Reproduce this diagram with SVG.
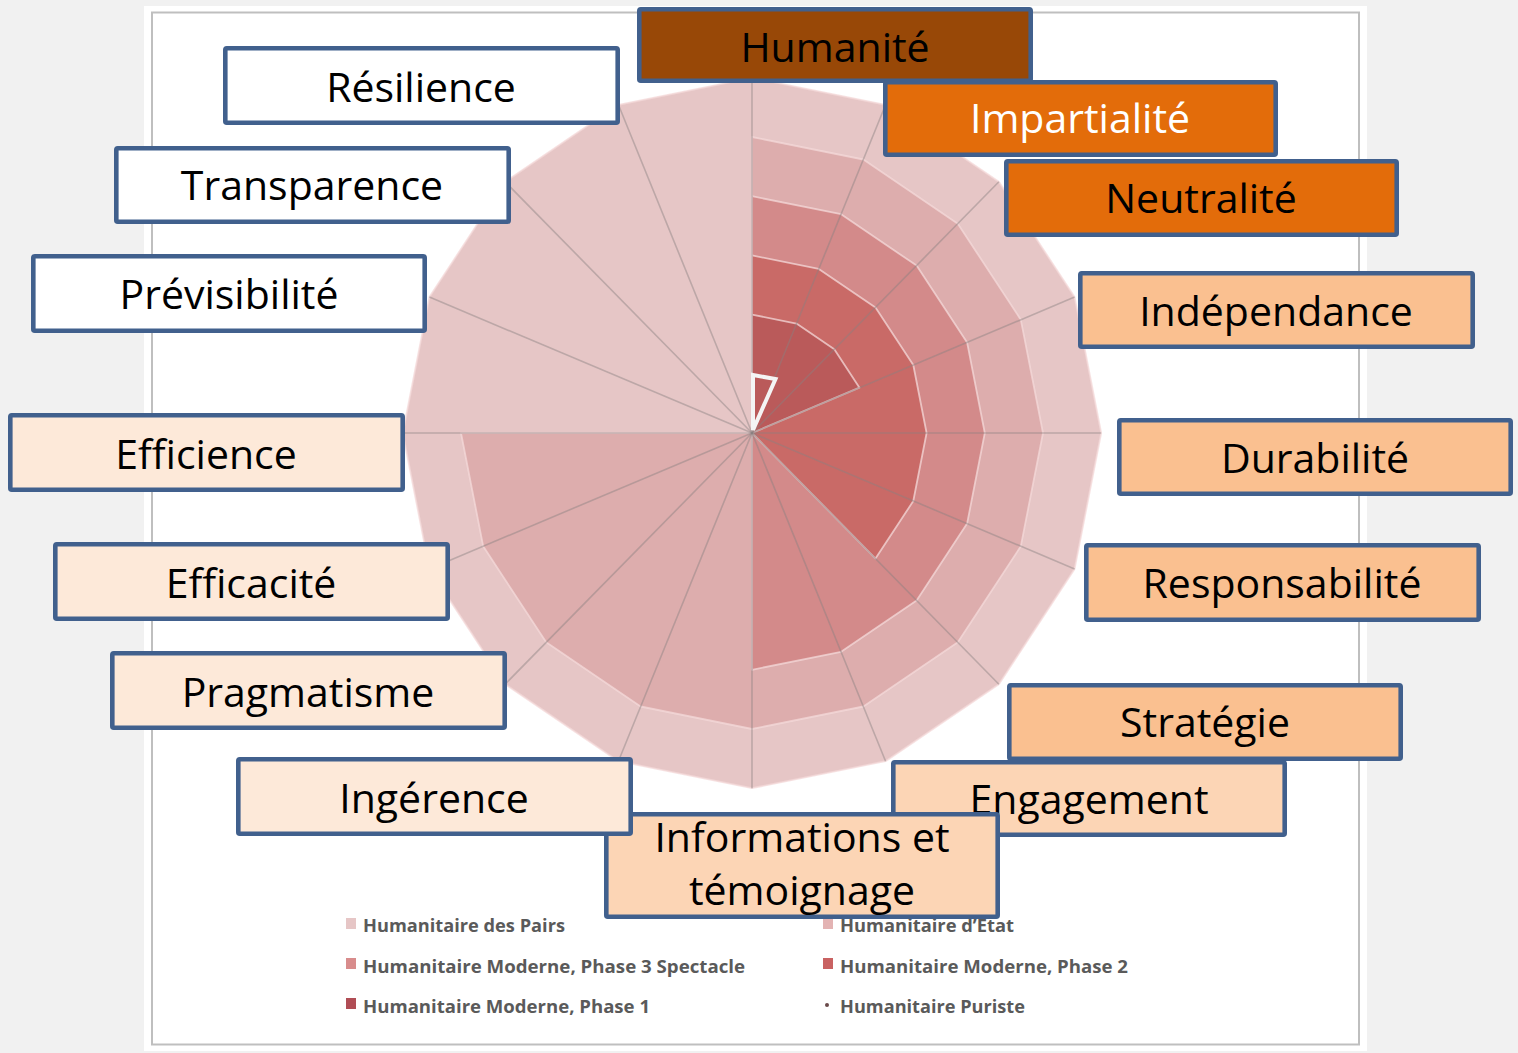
<svg xmlns="http://www.w3.org/2000/svg" width="1518" height="1053" viewBox="0 0 1518 1053">
<defs>
<style>
.box{stroke:#41608D;stroke-width:4.6}
.lbl{font-family:"Open Sans","Noto Sans","Liberation Sans",sans-serif;font-size:41px;text-anchor:middle;fill:#000}
.wht{fill:#FFFFFF}
.brown{fill:#984807}
.orange{fill:#E36C0A}
.lo{fill:#FAC090}
.pe{fill:#FCD5B5}
.vl{fill:#FDE9D9}
.band{stroke:#F4DADA;stroke-opacity:0.75;stroke-width:1.8;stroke-linejoin:round}
.spoke{stroke:#8A8080;stroke-opacity:0.45;stroke-width:1.6}
.leg{font-family:"Open Sans","Noto Sans","Liberation Sans",sans-serif;font-size:18.5px;font-weight:700;fill:#5A5A5A}
</style>
</defs>
<rect x="0" y="0" width="1518" height="1053" fill="#F1F1F1"/>
<rect x="144" y="6" width="1223" height="1045" fill="#FFFFFF"/>
<rect x="152" y="12.5" width="1207" height="1032" fill="none" stroke="#BFBFBF" stroke-width="2"/>

<g id="chart">
<polygon id="pairs" class="band" fill="#E6C6C6" points="752,77.8 885.6,104.8 998.9,181.8 1074.6,297.1 1101.2,433 1074.6,568.9 998.9,684.2 885.6,761.2 752,788.2 618.4,761.2 505.1,684.2 429.4,568.9 402.8,433 429.4,297.1 505.1,181.8 618.4,104.8"/>
<polygon id="etat" class="band" fill="#DDADAD" points="752,137 863.4,159.5 957.8,223.7 1020.8,319.7 1043,433 1020.8,546.3 957.8,642.3 863.4,706.5 752,729 640.6,706.5 546.2,642.3 483.2,546.3 461,433 752,433"/>
<polygon id="phase3" class="band" fill="#D38A8A" points="752,196.2 841.1,214.2 916.6,265.6 967.1,342.4 984.8,433 967.1,523.6 916.6,600.4 841.1,651.8 752,669.8 752,433"/>
<polygon id="phase2" class="band" fill="#C96A67" points="752,255.4 818.8,268.9 875.5,307.4 913.3,365 926.6,433 913.3,501 875.5,558.6 752,433"/>
<polygon id="phase1" class="band" fill="#BA5A5A" points="752,314.6 796.5,323.6 834.3,349.3 859.5,387.7 752,433"/>
<g id="spokes">
<line class="spoke" x1="752" y1="433" x2="752" y2="77.8"/>
<line class="spoke" x1="752" y1="433" x2="885.6" y2="104.8"/>
<line class="spoke" x1="752" y1="433" x2="998.9" y2="181.8"/>
<line class="spoke" x1="752" y1="433" x2="1074.6" y2="297.1"/>
<line class="spoke" x1="752" y1="433" x2="1101.2" y2="433"/>
<line class="spoke" x1="752" y1="433" x2="1074.6" y2="568.9"/>
<line class="spoke" x1="752" y1="433" x2="998.9" y2="684.2"/>
<line class="spoke" x1="752" y1="433" x2="885.6" y2="761.2"/>
<line class="spoke" x1="752" y1="433" x2="752" y2="788.2"/>
<line class="spoke" x1="752" y1="433" x2="618.4" y2="761.2"/>
<line class="spoke" x1="752" y1="433" x2="505.1" y2="684.2"/>
<line class="spoke" x1="752" y1="433" x2="429.4" y2="568.9"/>
<line class="spoke" x1="752" y1="433" x2="402.8" y2="433"/>
<line class="spoke" x1="752" y1="433" x2="429.4" y2="297.1"/>
<line class="spoke" x1="752" y1="433" x2="505.1" y2="181.8"/>
<line class="spoke" x1="752" y1="433" x2="618.4" y2="104.8"/>
</g>
<polygon id="puriste" fill="none" stroke="#F4F4F4" stroke-width="4" stroke-linejoin="miter" points="753,375 775.5,379 753,430"/>
</g>

<g id="legend">
<rect x="346" y="918" width="10" height="11" fill="#E6C6C6"/>
<text class="leg" x="363" y="932" textLength="202" lengthAdjust="spacingAndGlyphs">Humanitaire des Pairs</text>
<rect x="823" y="918" width="10" height="11" fill="#E3B3B3"/>
<text class="leg" x="840" y="932" textLength="174" lengthAdjust="spacingAndGlyphs">Humanitaire d’Etat</text>
<rect x="346" y="958" width="10" height="11" fill="#D88C8C"/>
<text class="leg" x="363" y="973" textLength="382" lengthAdjust="spacingAndGlyphs">Humanitaire Moderne, Phase 3 Spectacle</text>
<rect x="823" y="958" width="10" height="11" fill="#C96262"/>
<text class="leg" x="840" y="973" textLength="288" lengthAdjust="spacingAndGlyphs">Humanitaire Moderne, Phase 2</text>
<rect x="346" y="998" width="10" height="11" fill="#B04D55"/>
<text class="leg" x="363" y="1013" textLength="287" lengthAdjust="spacingAndGlyphs">Humanitaire Moderne, Phase 1</text>
<circle cx="827" cy="1005" r="2" fill="#6A4A4A"/>
<text class="leg" x="840" y="1013" textLength="185" lengthAdjust="spacingAndGlyphs">Humanitaire Puriste</text>
</g>

<g id="n-humanite"><rect class="box brown" x="639.3" y="9.3" width="391.4" height="71.4" rx="1.5"/><text class="lbl" x="835" y="62">Humanité</text></g>
<g id="n-impartialite"><rect class="box orange" x="885.3" y="82.3" width="390.4" height="72.4" rx="1.5"/><text class="lbl" x="1080" y="133" style="fill:#FFFFFF">Impartialité</text></g>
<g id="n-neutralite"><rect class="box orange" x="1006.3" y="161.3" width="390.4" height="73.4" rx="1.5"/><text class="lbl" x="1201" y="213">Neutralité</text></g>
<g id="n-resilience"><rect class="box wht" x="225.3" y="48.3" width="392.4" height="74.4" rx="1.5"/><text class="lbl" x="421" y="102">Résilience</text></g>
<g id="n-transparence"><rect class="box wht" x="116.3" y="148.3" width="392.4" height="73.4" rx="1.5"/><text class="lbl" x="312" y="200">Transparence</text></g>
<g id="n-previsibilite"><rect class="box wht" x="33.3" y="256.3" width="391.4" height="74.4" rx="1.5"/><text class="lbl" x="229" y="309">Prévisibilité</text></g>
<g id="n-independance"><rect class="box lo" x="1080.3" y="273.3" width="392.4" height="73.4" rx="1.5"/><text class="lbl" x="1276" y="326">Indépendance</text></g>
<g id="n-efficience"><rect class="box vl" x="10.3" y="415.3" width="392.4" height="74.4" rx="1.5"/><text class="lbl" x="206" y="469">Efficience</text></g>
<g id="n-durabilite"><rect class="box lo" x="1119.3" y="420.3" width="391.4" height="73.4" rx="1.5"/><text class="lbl" x="1315" y="473">Durabilité</text></g>
<g id="n-efficacite"><rect class="box vl" x="55.3" y="544.3" width="392.4" height="74.4" rx="1.5"/><text class="lbl" x="251" y="598">Efficacité</text></g>
<g id="n-responsabilite"><rect class="box lo" x="1086.3" y="545.3" width="392.4" height="74.4" rx="1.5"/><text class="lbl" x="1282" y="598">Responsabilité</text></g>
<g id="n-pragmatisme"><rect class="box vl" x="112.3" y="653.3" width="392.4" height="74.4" rx="1.5"/><text class="lbl" x="308" y="707">Pragmatisme</text></g>
<g id="n-strategie"><rect class="box lo" x="1009.3" y="685.3" width="391.4" height="73.4" rx="1.5"/><text class="lbl" x="1205" y="737">Stratégie</text></g>
<g id="n-engagement"><rect class="box pe" x="893.3" y="762.3" width="391.4" height="72.4" rx="1.5"/><text class="lbl" x="1089" y="814">Engagement</text></g>
<g id="n-informations"><rect class="box pe" x="606.3" y="814.3" width="391.4" height="102.4" rx="1.5"/><text class="lbl" x="802" y="852">Informations et</text><text class="lbl" x="802" y="905">témoignage</text></g>
<g id="n-ingerence"><rect class="box vl" x="238.3" y="759.3" width="392.4" height="74.4" rx="1.5"/><text class="lbl" x="434" y="813">Ingérence</text></g>
</svg>
